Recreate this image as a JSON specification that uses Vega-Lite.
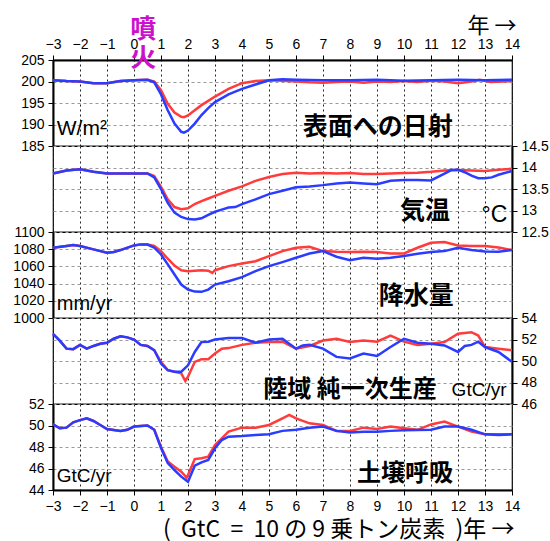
{
  "$schema": "https://vega.github.io/schema/vega-lite/v6.json",
  "padding": {"left": 12, "top": 13, "right": 0, "bottom": 0},
  "spacing": 0,
  "bounds": "flush",
  "background": "white",
  "config": {
    "view": {"stroke": "#000", "strokeWidth": 1.2},
    "axis": {
      "labelFont": "Liberation Sans", "labelFontSize": 14, "labelColor": "#000",
      "tickColor": "#000", "tickSize": 5, "labelPadding": 4, "tickCount": 100,
      "domainColor": "#000", "domainWidth": 2,
      "labelFlush": false, "labelOverlap": false,
      "titleFont": "Noto Sans CJK JP", "titleColor": "#000", "titleFontWeight": "normal"
    },
    "axisX": {"gridColor": "#222", "gridDash": [2, 3], "gridOpacity": 1, "gridWidth": 1},
    "axisY": {"gridColor": "#999", "gridDash": [3, 3], "gridOpacity": 1, "gridWidth": 1},
    "line": {"strokeWidth": 2.5, "clip": true},
    "text": {"font": "Noto Sans CJK JP", "color": "#000"}
  },
  "datasets": {
    "solar": [
      {"t":-3,"s":"r","v":200.3},{"t":-2.5,"s":"r","v":200.1},{"t":-2,"s":"r","v":200.0},{"t":-1.5,"s":"r","v":199.6},{"t":-1,"s":"r","v":199.6},{"t":-0.5,"s":"r","v":200.1},{"t":0,"s":"r","v":200.3},{"t":0.5,"s":"r","v":200.4},{"t":0.75,"s":"r","v":200.0},{"t":1,"s":"r","v":198.0},{"t":1.25,"s":"r","v":194.8},{"t":1.5,"s":"r","v":192.8},{"t":1.75,"s":"r","v":191.8},{"t":1.85,"s":"r","v":191.7},{"t":2,"s":"r","v":192.1},{"t":2.25,"s":"r","v":193.3},{"t":2.5,"s":"r","v":194.5},{"t":2.75,"s":"r","v":195.5},{"t":3,"s":"r","v":196.5},{"t":3.5,"s":"r","v":198.3},{"t":4,"s":"r","v":199.6},{"t":4.5,"s":"r","v":200.1},{"t":5,"s":"r","v":200.3},{"t":5.5,"s":"r","v":200.2},{"t":6,"s":"r","v":200.0},{"t":6.5,"s":"r","v":199.8},{"t":7,"s":"r","v":199.7},{"t":7.5,"s":"r","v":199.9},{"t":8,"s":"r","v":200.0},{"t":8.5,"s":"r","v":199.7},{"t":9,"s":"r","v":200.0},{"t":9.5,"s":"r","v":199.9},{"t":10,"s":"r","v":200.1},{"t":10.5,"s":"r","v":199.9},{"t":11,"s":"r","v":200.2},{"t":11.5,"s":"r","v":200.0},{"t":12,"s":"r","v":199.6},{"t":12.5,"s":"r","v":200.0},{"t":12.8,"s":"r","v":200.4},{"t":13.2,"s":"r","v":199.9},{"t":14,"s":"r","v":200.1},
      {"t":-3,"s":"b","v":200.3},{"t":-2.5,"s":"b","v":200.1},{"t":-2,"s":"b","v":200.0},{"t":-1.5,"s":"b","v":199.6},{"t":-1,"s":"b","v":199.6},{"t":-0.5,"s":"b","v":200.1},{"t":0,"s":"b","v":200.3},{"t":0.5,"s":"b","v":200.4},{"t":0.75,"s":"b","v":199.8},{"t":1,"s":"b","v":197.0},{"t":1.25,"s":"b","v":193.3},{"t":1.5,"s":"b","v":190.2},{"t":1.75,"s":"b","v":188.3},{"t":1.85,"s":"b","v":188.1},{"t":2,"s":"b","v":188.6},{"t":2.25,"s":"b","v":190.2},{"t":2.5,"s":"b","v":192.2},{"t":2.75,"s":"b","v":193.8},{"t":3,"s":"b","v":195.2},{"t":3.5,"s":"b","v":197.0},{"t":4,"s":"b","v":198.3},{"t":4.5,"s":"b","v":199.3},{"t":5,"s":"b","v":200.3},{"t":5.5,"s":"b","v":200.5},{"t":6,"s":"b","v":200.4},{"t":7,"s":"b","v":200.3},{"t":8,"s":"b","v":200.3},{"t":9,"s":"b","v":200.4},{"t":10,"s":"b","v":200.2},{"t":11,"s":"b","v":200.3},{"t":12,"s":"b","v":200.4},{"t":13,"s":"b","v":200.3},{"t":14,"s":"b","v":200.4}
    ],
    "temp": [
      {"t":-3,"s":"r","v":13.86},{"t":-2.5,"s":"r","v":13.93},{"t":-2,"s":"r","v":13.96},{"t":-1.5,"s":"r","v":13.9},{"t":-1,"s":"r","v":13.86},{"t":-0.5,"s":"r","v":13.86},{"t":0,"s":"r","v":13.86},{"t":0.5,"s":"r","v":13.86},{"t":0.75,"s":"r","v":13.8},{"t":1,"s":"r","v":13.55},{"t":1.25,"s":"r","v":13.26},{"t":1.5,"s":"r","v":13.08},{"t":1.75,"s":"r","v":13.03},{"t":2,"s":"r","v":13.05},{"t":2.25,"s":"r","v":13.15},{"t":2.5,"s":"r","v":13.22},{"t":2.75,"s":"r","v":13.28},{"t":3,"s":"r","v":13.34},{"t":3.5,"s":"r","v":13.46},{"t":4,"s":"r","v":13.56},{"t":4.5,"s":"r","v":13.69},{"t":5,"s":"r","v":13.78},{"t":5.5,"s":"r","v":13.85},{"t":6,"s":"r","v":13.88},{"t":6.5,"s":"r","v":13.86},{"t":7,"s":"r","v":13.87},{"t":7.5,"s":"r","v":13.86},{"t":8,"s":"r","v":13.87},{"t":8.5,"s":"r","v":13.85},{"t":9,"s":"r","v":13.85},{"t":9.5,"s":"r","v":13.86},{"t":10,"s":"r","v":13.87},{"t":10.5,"s":"r","v":13.88},{"t":11,"s":"r","v":13.9},{"t":11.5,"s":"r","v":13.93},{"t":12,"s":"r","v":13.94},{"t":12.5,"s":"r","v":13.93},{"t":13,"s":"r","v":13.92},{"t":13.5,"s":"r","v":13.95},{"t":14,"s":"r","v":13.97},
      {"t":-3,"s":"b","v":13.86},{"t":-2.5,"s":"b","v":13.93},{"t":-2,"s":"b","v":13.96},{"t":-1.5,"s":"b","v":13.9},{"t":-1,"s":"b","v":13.86},{"t":-0.5,"s":"b","v":13.86},{"t":0,"s":"b","v":13.86},{"t":0.5,"s":"b","v":13.86},{"t":0.75,"s":"b","v":13.77},{"t":1,"s":"b","v":13.5},{"t":1.25,"s":"b","v":13.18},{"t":1.5,"s":"b","v":12.95},{"t":1.75,"s":"b","v":12.85},{"t":2,"s":"b","v":12.8},{"t":2.25,"s":"b","v":12.79},{"t":2.5,"s":"b","v":12.82},{"t":2.75,"s":"b","v":12.9},{"t":3,"s":"b","v":12.97},{"t":3.25,"s":"b","v":13.02},{"t":3.5,"s":"b","v":13.07},{"t":3.75,"s":"b","v":13.08},{"t":4,"s":"b","v":13.15},{"t":4.5,"s":"b","v":13.26},{"t":5,"s":"b","v":13.38},{"t":5.5,"s":"b","v":13.46},{"t":6,"s":"b","v":13.54},{"t":6.5,"s":"b","v":13.56},{"t":7,"s":"b","v":13.59},{"t":7.5,"s":"b","v":13.63},{"t":8,"s":"b","v":13.65},{"t":8.5,"s":"b","v":13.63},{"t":9,"s":"b","v":13.61},{"t":9.5,"s":"b","v":13.69},{"t":10,"s":"b","v":13.71},{"t":10.5,"s":"b","v":13.71},{"t":11,"s":"b","v":13.7},{"t":11.5,"s":"b","v":13.86},{"t":11.75,"s":"b","v":13.94},{"t":12,"s":"b","v":13.95},{"t":12.25,"s":"b","v":13.89},{"t":12.5,"s":"b","v":13.81},{"t":12.75,"s":"b","v":13.75},{"t":13,"s":"b","v":13.75},{"t":13.25,"s":"b","v":13.77},{"t":13.5,"s":"b","v":13.83},{"t":14,"s":"b","v":13.92}
    ],
    "precip": [
      {"t":-3,"s":"r","v":1081.7},{"t":-2.5,"s":"r","v":1083.7},{"t":-2.25,"s":"r","v":1084.8},{"t":-2,"s":"r","v":1083.7},{"t":-1.5,"s":"r","v":1079.8},{"t":-1,"s":"r","v":1075.9},{"t":-0.75,"s":"r","v":1076.7},{"t":-0.5,"s":"r","v":1079},{"t":0,"s":"r","v":1084.4},{"t":0.25,"s":"r","v":1085.6},{"t":0.5,"s":"r","v":1085.4},{"t":0.75,"s":"r","v":1083.7},{"t":1,"s":"r","v":1077.8},{"t":1.25,"s":"r","v":1068.9},{"t":1.5,"s":"r","v":1061},{"t":1.75,"s":"r","v":1055.6},{"t":2,"s":"r","v":1054.5},{"t":2.5,"s":"r","v":1055.6},{"t":2.75,"s":"r","v":1055},{"t":2.9,"s":"r","v":1052.5},{"t":3,"s":"r","v":1055.6},{"t":3.5,"s":"r","v":1060.3},{"t":4,"s":"r","v":1063.4},{"t":4.5,"s":"r","v":1066},{"t":5,"s":"r","v":1072},{"t":5.5,"s":"r","v":1077.8},{"t":6,"s":"r","v":1081.7},{"t":6.5,"s":"r","v":1082.9},{"t":7,"s":"r","v":1077.8},{"t":7.5,"s":"r","v":1077},{"t":8,"s":"r","v":1076.7},{"t":8.5,"s":"r","v":1077},{"t":9,"s":"r","v":1076.7},{"t":9.5,"s":"r","v":1075.1},{"t":10,"s":"r","v":1075},{"t":10.5,"s":"r","v":1081.7},{"t":11,"s":"r","v":1087.5},{"t":11.5,"s":"r","v":1088.3},{"t":12,"s":"r","v":1084.4},{"t":12.5,"s":"r","v":1083.7},{"t":13,"s":"r","v":1083.7},{"t":13.5,"s":"r","v":1082},{"t":14,"s":"r","v":1079},
      {"t":-3,"s":"b","v":1081.7},{"t":-2.5,"s":"b","v":1083.7},{"t":-2.25,"s":"b","v":1084.8},{"t":-2,"s":"b","v":1083.7},{"t":-1.5,"s":"b","v":1079.8},{"t":-1,"s":"b","v":1075.9},{"t":-0.75,"s":"b","v":1076.7},{"t":-0.5,"s":"b","v":1079},{"t":0,"s":"b","v":1084.4},{"t":0.25,"s":"b","v":1085.6},{"t":0.5,"s":"b","v":1085.4},{"t":0.75,"s":"b","v":1081.7},{"t":1,"s":"b","v":1073.9},{"t":1.25,"s":"b","v":1062.3},{"t":1.5,"s":"b","v":1050.6},{"t":1.75,"s":"b","v":1038.9},{"t":2,"s":"b","v":1033.1},{"t":2.25,"s":"b","v":1030.7},{"t":2.5,"s":"b","v":1030.4},{"t":2.75,"s":"b","v":1033},{"t":3,"s":"b","v":1038.9},{"t":3.5,"s":"b","v":1042.8},{"t":4,"s":"b","v":1047.5},{"t":4.5,"s":"b","v":1054.5},{"t":5,"s":"b","v":1060.3},{"t":5.5,"s":"b","v":1065},{"t":6,"s":"b","v":1070},{"t":6.5,"s":"b","v":1075},{"t":7,"s":"b","v":1077.8},{"t":7.5,"s":"b","v":1071.2},{"t":8,"s":"b","v":1067.3},{"t":8.5,"s":"b","v":1070},{"t":9,"s":"b","v":1068.9},{"t":9.5,"s":"b","v":1070},{"t":10,"s":"b","v":1072},{"t":10.5,"s":"b","v":1074.7},{"t":11,"s":"b","v":1076.7},{"t":11.5,"s":"b","v":1077.8},{"t":12,"s":"b","v":1081.7},{"t":12.5,"s":"b","v":1079},{"t":13,"s":"b","v":1077.4},{"t":13.5,"s":"b","v":1077},{"t":14,"s":"b","v":1079}
    ],
    "npp": [
      {"t":-3,"s":"r","v":52.53},{"t":-2.75,"s":"r","v":51.9},{"t":-2.5,"s":"r","v":51.15},{"t":-2.25,"s":"r","v":51.1},{"t":-2,"s":"r","v":51.5},{"t":-1.75,"s":"r","v":51.15},{"t":-1.5,"s":"r","v":51.4},{"t":-1.25,"s":"r","v":51.6},{"t":-1,"s":"r","v":51.7},{"t":-0.75,"s":"r","v":52.07},{"t":-0.5,"s":"r","v":52.3},{"t":-0.25,"s":"r","v":52.2},{"t":0,"s":"r","v":52.0},{"t":0.25,"s":"r","v":51.5},{"t":0.5,"s":"r","v":51.4},{"t":0.75,"s":"r","v":51.0},{"t":1,"s":"r","v":49.9},{"t":1.25,"s":"r","v":49.15},{"t":1.5,"s":"r","v":49.0},{"t":1.75,"s":"r","v":48.85},{"t":1.9,"s":"r","v":48.14},{"t":2,"s":"r","v":48.54},{"t":2.25,"s":"r","v":49.92},{"t":2.5,"s":"r","v":50.17},{"t":2.75,"s":"r","v":50.17},{"t":3,"s":"r","v":50.7},{"t":3.25,"s":"r","v":51.15},{"t":3.5,"s":"r","v":51.2},{"t":4,"s":"r","v":51.5},{"t":4.5,"s":"r","v":51.7},{"t":5,"s":"r","v":51.76},{"t":5.5,"s":"r","v":51.8},{"t":6,"s":"r","v":51.15},{"t":6.5,"s":"r","v":51.4},{"t":7,"s":"r","v":51.9},{"t":7.5,"s":"r","v":52.07},{"t":8,"s":"r","v":51.76},{"t":8.5,"s":"r","v":51.9},{"t":9,"s":"r","v":51.8},{"t":9.5,"s":"r","v":52.37},{"t":10,"s":"r","v":51.8},{"t":10.5,"s":"r","v":51.5},{"t":11,"s":"r","v":51.6},{"t":11.5,"s":"r","v":51.76},{"t":12,"s":"r","v":52.53},{"t":12.5,"s":"r","v":52.68},{"t":12.75,"s":"r","v":52.37},{"t":13,"s":"r","v":51.3},{"t":13.5,"s":"r","v":51.15},{"t":14,"s":"r","v":51.0},
      {"t":-3,"s":"b","v":52.53},{"t":-2.75,"s":"b","v":51.9},{"t":-2.5,"s":"b","v":51.15},{"t":-2.25,"s":"b","v":51.1},{"t":-2,"s":"b","v":51.5},{"t":-1.75,"s":"b","v":51.15},{"t":-1.5,"s":"b","v":51.4},{"t":-1.25,"s":"b","v":51.6},{"t":-1,"s":"b","v":51.7},{"t":-0.75,"s":"b","v":52.07},{"t":-0.5,"s":"b","v":52.3},{"t":-0.25,"s":"b","v":52.2},{"t":0,"s":"b","v":52.0},{"t":0.25,"s":"b","v":51.5},{"t":0.5,"s":"b","v":51.4},{"t":0.75,"s":"b","v":51.0},{"t":1,"s":"b","v":49.77},{"t":1.25,"s":"b","v":49.15},{"t":1.5,"s":"b","v":49.0},{"t":1.75,"s":"b","v":49.0},{"t":2,"s":"b","v":49.6},{"t":2.25,"s":"b","v":50.84},{"t":2.5,"s":"b","v":51.76},{"t":2.75,"s":"b","v":51.8},{"t":3,"s":"b","v":52.0},{"t":3.5,"s":"b","v":52.13},{"t":4,"s":"b","v":52.13},{"t":4.5,"s":"b","v":51.7},{"t":5,"s":"b","v":52.0},{"t":5.5,"s":"b","v":52.07},{"t":6,"s":"b","v":51.15},{"t":6.25,"s":"b","v":51.45},{"t":6.5,"s":"b","v":51.5},{"t":7,"s":"b","v":51.15},{"t":7.5,"s":"b","v":50.38},{"t":8,"s":"b","v":50.23},{"t":8.5,"s":"b","v":50.7},{"t":9,"s":"b","v":50.47},{"t":9.5,"s":"b","v":51.3},{"t":10,"s":"b","v":52.07},{"t":10.5,"s":"b","v":51.7},{"t":11,"s":"b","v":51.6},{"t":11.5,"s":"b","v":51.45},{"t":12,"s":"b","v":50.84},{"t":12.25,"s":"b","v":51.4},{"t":12.5,"s":"b","v":51.5},{"t":12.75,"s":"b","v":51.8},{"t":13,"s":"b","v":51.3},{"t":13.5,"s":"b","v":50.84},{"t":14,"s":"b","v":49.92}
    ],
    "soil": [
      {"t":-3,"s":"r","v":50.1},{"t":-2.75,"s":"r","v":49.74},{"t":-2.5,"s":"r","v":49.8},{"t":-2.25,"s":"r","v":50.3},{"t":-2,"s":"r","v":50.5},{"t":-1.75,"s":"r","v":50.67},{"t":-1.5,"s":"r","v":50.42},{"t":-1.25,"s":"r","v":50.05},{"t":-1,"s":"r","v":49.67},{"t":-0.5,"s":"r","v":49.5},{"t":-0.25,"s":"r","v":49.6},{"t":0,"s":"r","v":49.9},{"t":0.5,"s":"r","v":50.0},{"t":0.75,"s":"r","v":49.6},{"t":1,"s":"r","v":48.03},{"t":1.25,"s":"r","v":46.64},{"t":1.5,"s":"r","v":46.17},{"t":1.75,"s":"r","v":45.7},{"t":1.95,"s":"r","v":45.15},{"t":2,"s":"r","v":45.4},{"t":2.25,"s":"r","v":46.88},{"t":2.5,"s":"r","v":46.95},{"t":2.75,"s":"r","v":47.1},{"t":3,"s":"r","v":48.19},{"t":3.25,"s":"r","v":48.8},{"t":3.5,"s":"r","v":49.43},{"t":4,"s":"r","v":49.8},{"t":4.5,"s":"r","v":49.8},{"t":5,"s":"r","v":50.05},{"t":5.5,"s":"r","v":50.67},{"t":5.75,"s":"r","v":50.98},{"t":6,"s":"r","v":50.67},{"t":6.5,"s":"r","v":50.2},{"t":7,"s":"r","v":50.05},{"t":7.5,"s":"r","v":49.5},{"t":8,"s":"r","v":49.5},{"t":8.5,"s":"r","v":49.8},{"t":9,"s":"r","v":49.67},{"t":9.5,"s":"r","v":49.9},{"t":10,"s":"r","v":49.74},{"t":10.5,"s":"r","v":49.6},{"t":11,"s":"r","v":50.1},{"t":11.5,"s":"r","v":50.36},{"t":12,"s":"r","v":49.9},{"t":12.5,"s":"r","v":49.43},{"t":13,"s":"r","v":49.18},{"t":13.5,"s":"r","v":49.18},{"t":14,"s":"r","v":49.18},
      {"t":-3,"s":"b","v":50.1},{"t":-2.75,"s":"b","v":49.74},{"t":-2.5,"s":"b","v":49.8},{"t":-2.25,"s":"b","v":50.3},{"t":-2,"s":"b","v":50.5},{"t":-1.75,"s":"b","v":50.67},{"t":-1.5,"s":"b","v":50.42},{"t":-1.25,"s":"b","v":50.05},{"t":-1,"s":"b","v":49.67},{"t":-0.5,"s":"b","v":49.5},{"t":-0.25,"s":"b","v":49.6},{"t":0,"s":"b","v":49.9},{"t":0.5,"s":"b","v":50.0},{"t":0.75,"s":"b","v":49.6},{"t":1,"s":"b","v":47.9},{"t":1.25,"s":"b","v":46.5},{"t":1.5,"s":"b","v":45.86},{"t":1.75,"s":"b","v":45.24},{"t":2,"s":"b","v":44.77},{"t":2.25,"s":"b","v":46.26},{"t":2.5,"s":"b","v":46.57},{"t":2.75,"s":"b","v":46.8},{"t":3,"s":"b","v":47.88},{"t":3.25,"s":"b","v":48.65},{"t":3.5,"s":"b","v":48.96},{"t":4,"s":"b","v":49.02},{"t":4.5,"s":"b","v":49.12},{"t":5,"s":"b","v":49.18},{"t":5.5,"s":"b","v":49.5},{"t":6,"s":"b","v":49.6},{"t":6.5,"s":"b","v":49.8},{"t":7,"s":"b","v":49.9},{"t":7.5,"s":"b","v":49.5},{"t":8,"s":"b","v":49.36},{"t":8.5,"s":"b","v":49.42},{"t":9,"s":"b","v":49.42},{"t":9.5,"s":"b","v":49.5},{"t":10,"s":"b","v":49.55},{"t":11,"s":"b","v":49.6},{"t":11.5,"s":"b","v":49.9},{"t":12,"s":"b","v":49.9},{"t":12.5,"s":"b","v":49.6},{"t":13,"s":"b","v":49.18},{"t":13.5,"s":"b","v":49.12},{"t":14,"s":"b","v":49.18}
    ]
  },
  "vconcat": [
    {
      "width": 459, "height": 86,
      "layer": [
        {
          "data": {"name": "solar"},
          "mark": "line",
          "encoding": {
            "x": {"field": "t", "type": "quantitative", "scale": {"domain": [-3, 14], "nice": false},
                  "axis": {"orient": "top", "values": [-3,-2,-1,0,1,2,3,4,5,6,7,8,9,10,11,12,13,14], "tickCount": 100, "format": "d", "labelOverlap": false, "grid": true,
                           "title": "年 →", "titleFontSize": 22, "titleAlign": "right", "titleAnchor": "end", "titleX": 463, "titleY": -28, "titleBaseline": "alphabetic"}},
            "y": {"field": "v", "type": "quantitative", "scale": {"domain": [185, 205], "nice": false, "zero": false},
                  "axis": {"orient": "left", "values": [185,190,195,200,205], "tickCount": 100, "format": "d", "labelOverlap": false, "grid": true, "title": null}},
            "color": {"field": "s", "type": "nominal", "scale": {"domain": ["r", "b"], "range": ["#ff3b3b", "#2a3cff"]}, "legend": null}
          }
        },
        {
          "data": {"values": [{"t": 9.03, "v": 189.4, "label": "表面への日射"}]},
          "mark": {"type": "text", "fontSize": 25, "fontWeight": "bold", "align": "center", "baseline": "middle"},
          "encoding": {"x": {"field": "t", "type": "quantitative"}, "y": {"field": "v", "type": "quantitative"}, "text": {"field": "label"}}
        },
        {
          "data": {"values": [{"t": -2.86, "v": 189.0, "label": "W/m²"}]},
          "mark": {"type": "text", "font": "Liberation Sans", "fontSize": 21, "align": "left", "baseline": "middle"},
          "encoding": {"x": {"field": "t", "type": "quantitative"}, "y": {"field": "v", "type": "quantitative"}, "text": {"field": "label"}}
        },
        {
          "data": {"values": [{"t": 0.34, "v": 211.95, "label": "噴"}, {"t": 0.34, "v": 205.2, "label": "火"}]},
          "mark": {"type": "text", "fontSize": 26, "fontWeight": "bold", "color": "#cc11cc", "align": "center", "baseline": "middle"},
          "encoding": {"x": {"field": "t", "type": "quantitative"}, "y": {"field": "v", "type": "quantitative"}, "text": {"field": "label"}}
        }
      ]
    },
    {
      "width": 459, "height": 86,
      "layer": [
        {
          "data": {"name": "temp"},
          "mark": "line",
          "encoding": {
            "x": {"field": "t", "type": "quantitative", "scale": {"domain": [-3, 14], "nice": false},
                  "axis": {"values": [-3,-2,-1,0,1,2,3,4,5,6,7,8,9,10,11,12,13,14], "tickCount": 100, "labels": false, "ticks": false, "domain": false, "grid": true, "title": null}},
            "y": {"field": "v", "type": "quantitative", "scale": {"domain": [12.5, 14.5], "nice": false, "zero": false},
                  "axis": {"orient": "right", "values": [12.5,13,13.5,14,14.5], "tickCount": 100, "format": ".1~f", "labelOverlap": false, "grid": true, "title": null}},
            "color": {"field": "s", "type": "nominal", "scale": {"domain": ["r", "b"], "range": ["#ff3b3b", "#2a3cff"]}, "legend": null}
          }
        },
        {
          "data": {"values": [{"t": 10.78, "v": 12.98, "label": "気温"}]},
          "mark": {"type": "text", "fontSize": 25, "fontWeight": "bold", "align": "center", "baseline": "middle"},
          "encoding": {"x": {"field": "t", "type": "quantitative"}, "y": {"field": "v", "type": "quantitative"}, "text": {"field": "label"}}
        },
        {
          "data": {"values": [{"t": 13.35, "v": 12.9, "label": "°C"}]},
          "mark": {"type": "text", "font": "Liberation Sans", "fontSize": 23, "align": "center", "baseline": "middle"},
          "encoding": {"x": {"field": "t", "type": "quantitative"}, "y": {"field": "v", "type": "quantitative"}, "text": {"field": "label"}}
        }
      ]
    },
    {
      "width": 459, "height": 86,
      "layer": [
        {
          "data": {"name": "precip"},
          "mark": "line",
          "encoding": {
            "x": {"field": "t", "type": "quantitative", "scale": {"domain": [-3, 14], "nice": false},
                  "axis": {"values": [-3,-2,-1,0,1,2,3,4,5,6,7,8,9,10,11,12,13,14], "tickCount": 100, "labels": false, "ticks": false, "domain": false, "grid": true, "title": null}},
            "y": {"field": "v", "type": "quantitative", "scale": {"domain": [1000, 1100], "nice": false, "zero": false},
                  "axis": {"orient": "left", "values": [1000,1020,1040,1060,1080,1100], "tickCount": 100, "format": "d", "labelOverlap": false, "grid": true, "title": null}},
            "color": {"field": "s", "type": "nominal", "scale": {"domain": ["r", "b"], "range": ["#ff3b3b", "#2a3cff"]}, "legend": null}
          }
        },
        {
          "data": {"values": [{"t": 10.45, "v": 1026, "label": "降水量"}]},
          "mark": {"type": "text", "fontSize": 25, "fontWeight": "bold", "align": "center", "baseline": "middle"},
          "encoding": {"x": {"field": "t", "type": "quantitative"}, "y": {"field": "v", "type": "quantitative"}, "text": {"field": "label"}}
        },
        {
          "data": {"values": [{"t": -2.86, "v": 1016.7, "label": "mm/yr"}]},
          "mark": {"type": "text", "font": "Liberation Sans", "fontSize": 20, "align": "left", "baseline": "middle"},
          "encoding": {"x": {"field": "t", "type": "quantitative"}, "y": {"field": "v", "type": "quantitative"}, "text": {"field": "label"}}
        }
      ]
    },
    {
      "width": 459, "height": 86,
      "layer": [
        {
          "data": {"name": "npp"},
          "mark": "line",
          "encoding": {
            "x": {"field": "t", "type": "quantitative", "scale": {"domain": [-3, 14], "nice": false},
                  "axis": {"values": [-3,-2,-1,0,1,2,3,4,5,6,7,8,9,10,11,12,13,14], "tickCount": 100, "labels": false, "ticks": false, "domain": false, "grid": true, "title": null}},
            "y": {"field": "v", "type": "quantitative", "scale": {"domain": [46, 54], "nice": false, "zero": false},
                  "axis": {"orient": "right", "values": [46,48,50,52,54], "tickCount": 100, "format": "d", "labelOverlap": false, "grid": true, "title": null}},
            "color": {"field": "s", "type": "nominal", "scale": {"domain": ["r", "b"], "range": ["#ff3b3b", "#2a3cff"]}, "legend": null}
          }
        },
        {
          "data": {"values": [{"t": 8.0, "v": 47.3, "label": "陸域 純一次生産"}]},
          "mark": {"type": "text", "fontSize": 24, "fontWeight": "bold", "align": "center", "baseline": "middle"},
          "encoding": {"x": {"field": "t", "type": "quantitative"}, "y": {"field": "v", "type": "quantitative"}, "text": {"field": "label"}}
        },
        {
          "data": {"values": [{"t": 12.78, "v": 47.3, "label": "GtC/yr"}]},
          "mark": {"type": "text", "font": "Liberation Sans", "fontSize": 19, "align": "center", "baseline": "middle"},
          "encoding": {"x": {"field": "t", "type": "quantitative"}, "y": {"field": "v", "type": "quantitative"}, "text": {"field": "label"}}
        }
      ]
    },
    {
      "width": 459, "height": 86,
      "layer": [
        {
          "data": {"name": "soil"},
          "mark": "line",
          "encoding": {
            "x": {"field": "t", "type": "quantitative", "scale": {"domain": [-3, 14], "nice": false},
                  "axis": {"orient": "bottom", "values": [-3,-2,-1,0,1,2,3,4,5,6,7,8,9,10,11,12,13,14], "tickCount": 100, "format": "d", "labelOverlap": false, "grid": true,
                           "title": "(\u00a0\u00a0GtC\u00a0\u00a0=\u00a0\u00a010\u00a0の\u00a09\u00a0乗トン炭素\u00a0\u00a0)年 →", "titleFontSize": 23, "titleAlign": "right", "titleAnchor": "end", "titleX": 461, "titleY": 46, "titleBaseline": "alphabetic"}},
            "y": {"field": "v", "type": "quantitative", "scale": {"domain": [44, 52], "nice": false, "zero": false},
                  "axis": {"orient": "left", "values": [44,46,48,50,52], "tickCount": 100, "format": "d", "labelOverlap": false, "grid": true, "title": null}},
            "color": {"field": "s", "type": "nominal", "scale": {"domain": ["r", "b"], "range": ["#ff3b3b", "#2a3cff"]}, "legend": null}
          }
        },
        {
          "data": {"values": [{"t": 10.04, "v": 45.5, "label": "土壌呼吸"}]},
          "mark": {"type": "text", "fontSize": 24, "fontWeight": "bold", "align": "center", "baseline": "middle"},
          "encoding": {"x": {"field": "t", "type": "quantitative"}, "y": {"field": "v", "type": "quantitative"}, "text": {"field": "label"}}
        },
        {
          "data": {"values": [{"t": -2.86, "v": 45.27, "label": "GtC/yr"}]},
          "mark": {"type": "text", "font": "Liberation Sans", "fontSize": 19, "align": "left", "baseline": "middle"},
          "encoding": {"x": {"field": "t", "type": "quantitative"}, "y": {"field": "v", "type": "quantitative"}, "text": {"field": "label"}}
        }
      ]
    }
  ]
}
